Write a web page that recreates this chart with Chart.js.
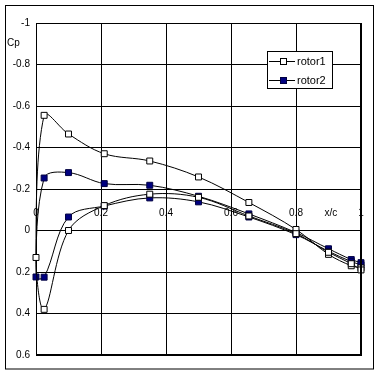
<!DOCTYPE html>
<html>
<head>
<meta charset="utf-8">
<script src="https://cdn.jsdelivr.net/npm/chart.js@4.4.1/dist/chart.umd.min.js"></script>
<style>
  html, body { margin: 0; padding: 0; background: #fff; }
  #wrap { width: 383px; height: 374px; }
</style>
</head>
<body>
<div id="wrap"><canvas id="cpChart" width="383" height="374"></canvas></div>
<script>
// === values (loop: upper surface TE -> LE -> lower surface TE) ===
const xRotor1 = [1, 0.97, 0.9, 0.8, 0.655, 0.5, 0.35, 0.21, 0.1, 0.025, 0,
                 0.025, 0.1, 0.21, 0.35, 0.5, 0.655, 0.8, 0.9, 0.97, 1];
const cpRotor1 = [0.18, 0.17, 0.115, -0.005, -0.135, -0.258, -0.335, -0.37, -0.465, -0.555, 0.13,
                  0.38, 0.0, -0.12, -0.175, -0.16, -0.07, 0.015, 0.105, 0.16, 0.19];

const xRotor2 = [1, 0.97, 0.9, 0.8, 0.655, 0.5, 0.35, 0.21, 0.1, 0.025, 0,
                 0.025, 0.1, 0.21, 0.35, 0.5, 0.655, 0.8, 0.9, 0.97, 1];
const cpRotor2 = [0.155, 0.14, 0.088, 0.01, -0.08, -0.165, -0.218, -0.226, -0.279, -0.253, 0.224,
                  0.225, -0.065, -0.118, -0.157, -0.138, -0.065, 0.02, 0.1, 0.15, 0.165];

const seriesNames = ["rotor1", "rotor2"];
const xTicks = [0, 0.2, 0.4, 0.6, 0.8, 1];
const xTitle = "x/c";
const yTitle = "Cp";

const FONT = "Liberation Sans, Arial, sans-serif";

function toPoints(xs, ys) {
  return xs.map((x, i) => ({ x: x, y: ys[i] }));
}

// =========================
// EXTRA DRAWING (labels inside plot, borders, legend box)
// =========================
const extras = {
  id: "extras",
  beforeDraw(chart) {
    const ctx = chart.ctx;
    ctx.save();
    ctx.fillStyle = "#fff";
    ctx.fillRect(0, 0, chart.width, chart.height);
    ctx.restore();
  },
  beforeDatasetsDraw(chart) {
    const ctx = chart.ctx;
    const xs = chart.scales.x;
    const ys = chart.scales.y;
    ctx.save();
    ctx.fillStyle = "#000";
    ctx.font = "10px " + FONT;
    ctx.textAlign = "center";
    ctx.textBaseline = "middle";
    const labelY = ys.getPixelForValue(-0.083);
    xTicks.forEach((v) => {
      ctx.fillText(String(v), xs.getPixelForValue(v), labelY);
    });
    ctx.fillText(xTitle, xs.getPixelForValue(0.907), labelY);
    ctx.textAlign = "left";
    ctx.fillText(yTitle, 7, 43);
    ctx.restore();
  },
  afterDraw(chart) {
    const ctx = chart.ctx;
    const a = chart.chartArea;
    ctx.save();
    // plot area border (heavier on right and bottom)
    ctx.strokeStyle = "#000";
    ctx.lineWidth = 2;
    ctx.beginPath();
    ctx.moveTo(a.right, a.top);
    ctx.lineTo(a.right, a.bottom);
    ctx.lineTo(a.left, a.bottom);
    ctx.stroke();

    // outer chart frame
    ctx.lineWidth = 1;
    ctx.strokeRect(5.5, 5.5, 368, 363.5);

    // legend box
    const lx = 267.5, ly = 51.5, lw = 65, lh = 37;
    ctx.fillStyle = "#fff";
    ctx.fillRect(lx, ly, lw, lh);
    ctx.strokeRect(lx, ly, lw, lh);
    ctx.font = "11px " + FONT;
    ctx.textAlign = "left";
    ctx.textBaseline = "middle";
    chart.data.datasets.forEach((ds, i) => {
      const y = 61.5 + i * 19;
      ctx.strokeStyle = "#000";
      ctx.beginPath();
      ctx.moveTo(269, y);
      ctx.lineTo(295, y);
      ctx.stroke();
      ctx.fillStyle = ds.pointBackgroundColor;
      ctx.fillRect(280.5, y - 3, 6, 6);
      ctx.strokeStyle = ds.pointBorderColor;
      ctx.strokeRect(280.5, y - 3, 6, 6);
      ctx.fillStyle = "#000";
      ctx.fillText(ds.label, 297, y + 0.5);
    });
    ctx.restore();
  }
};

// =========================
// CHART
// =========================
const ctx = document.getElementById("cpChart").getContext("2d");

new Chart(ctx, {
  type: "scatter",
  data: {
    datasets: [
      {
        label: seriesNames[0],
        data: toPoints(xRotor1, cpRotor1),
        showLine: true,
        tension: 0.35,
        clip: 8,
        borderColor: "#000",
        borderWidth: 1,
        pointStyle: "rect",
        pointRadius: 4.2,
        pointBackgroundColor: "#fff",
        pointBorderColor: "#000",
        pointBorderWidth: 1
      },
      {
        label: seriesNames[1],
        data: toPoints(xRotor2, cpRotor2),
        showLine: true,
        tension: 0.35,
        clip: 8,
        borderColor: "#000",
        borderWidth: 1,
        pointStyle: "rect",
        pointRadius: 4.2,
        pointBackgroundColor: "#000080",
        pointBorderColor: "#000040",
        pointBorderWidth: 1
      }
    ]
  },
  options: {
    responsive: false,
    animation: false,
    devicePixelRatio: 1,
    layout: { padding: { left: 0, top: 23, right: 22, bottom: 19 } },
    plugins: {
      legend: { display: false },
      tooltip: { enabled: false }
    },
    scales: {
      x: {
        type: "linear",
        min: 0,
        max: 1,
        ticks: { display: false, stepSize: 0.2 },
        grid: { color: "#000", lineWidth: 1, drawTicks: false },
        border: { display: false },
        afterFit(s) { s.height = 0; }
      },
      y: {
        min: -1,
        max: 0.6,
        reverse: true,
        ticks: {
          stepSize: 0.2,
          padding: 6,
          color: "#000",
          font: { family: FONT, size: 10 },
          callback: (v) => String(Math.round(v * 10) / 10)
        },
        grid: { color: "#000", lineWidth: 1, drawTicks: false },
        border: { display: false },
        afterFit(s) { s.width = 36; }
      }
    }
  },
  plugins: [extras]
});
</script>
</body>
</html>
